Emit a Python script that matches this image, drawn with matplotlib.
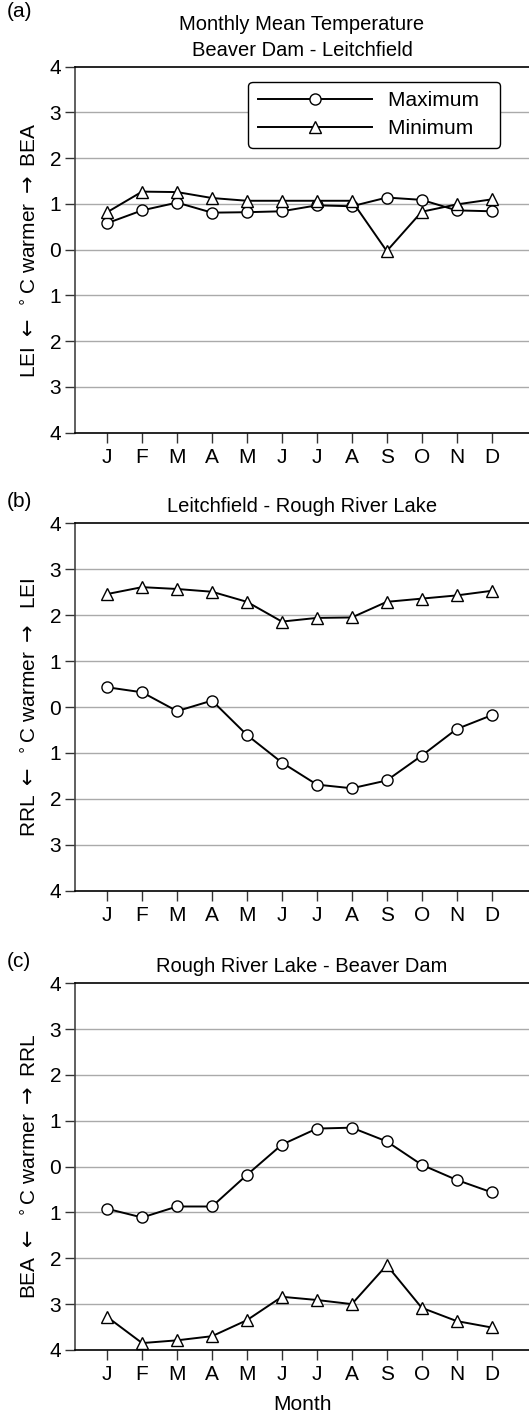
import numpy as np
import matplotlib.pyplot as plt

plt.rcParams['font.family'] = ['Liberation Sans', 'DejaVu Sans']

months = ['J', 'F', 'M', 'A', 'M', 'J', 'J', 'A', 'S', 'O', 'N', 'D']
x = np.arange(1, 13)

# (a) Beaver Dam - Leitchfield
a_max = [0.58, 0.86, 1.03, 0.81, 0.82, 0.84, 0.97, 0.95, 1.14, 1.09, 0.86, 0.84]
a_min = [0.82, 1.27, 1.26, 1.13, 1.07, 1.07, 1.07, 1.07, -0.03, 0.83, 0.99, 1.10]
# (b) Leitchfield - Rough River Lake
b_max = [0.43, 0.32, -0.09, 0.14, -0.61, -1.21, -1.69, -1.77, -1.60, -1.06, -0.48, -0.18]
b_min = [2.46, 2.61, 2.57, 2.51, 2.29, 1.86, 1.94, 1.95, 2.29, 2.36, 2.43, 2.53]
# (c) Rough River Lake - Beaver Dam
c_max = [-0.92, -1.11, -0.87, -0.87, -0.18, 0.48, 0.83, 0.85, 0.55, 0.04, -0.29, -0.56]
c_min = [-3.28, -3.85, -3.79, -3.70, -3.35, -2.84, -2.91, -3.00, -2.15, -3.08, -3.37, -3.51]

yticks = [-4, -3, -2, -1, 0, 1, 2, 3, 4]
ytick_labels = [str(abs(v)) for v in yticks]

panels = [
    ('(a)', 'Monthly Mean Temperature\nBeaver Dam - Leitchfield',
     'LEI $\\leftarrow$ $^\\circ$C warmer $\\rightarrow$ BEA', a_max, a_min,
     [0.1418, 0.694, 0.8582, 0.2588]),
    ('(b)', 'Leitchfield - Rough River Lake',
     'RRL $\\leftarrow$ $^\\circ$C warmer $\\rightarrow$  LEI', b_max, b_min,
     [0.1418, 0.3701, 0.8582, 0.2598]),
    ('(c)', 'Rough River Lake - Beaver Dam',
     'BEA $\\leftarrow$ $^\\circ$C warmer $\\rightarrow$ RRL', c_max, c_min,
     [0.1418, 0.0453, 0.8582, 0.2593]),
]

fig = plt.figure(figsize=(5.29, 14.14), dpi=100)

for i, (tag, title, ylab, ymax, ymin, pos) in enumerate(panels):
    ax = fig.add_axes(pos)
    for v in [-3, -2, -1, 0, 1, 2, 3]:
        ax.axhline(v, color='#aaaaaa', lw=1.0, zorder=0)
    ax.plot(x, ymax, '-o', color='black', lw=1.4, ms=8, mfc='white',
            mec='black', mew=1.0, label='Maximum  ', zorder=3)
    ax.plot(x, ymin, '-^', color='black', lw=1.4, ms=8.5, mfc='white',
            mec='black', mew=1.0, label='Minimum  ', zorder=3)
    ax.set_xlim(0.08, 13.07)
    ax.set_ylim(-4, 4)
    ax.set_yticks(yticks)
    ax.set_yticklabels(ytick_labels, fontsize=15)
    ax.set_xticks(x)
    ax.set_xticklabels(months, fontsize=15)
    ax.tick_params(axis='y', length=7, width=1, pad=3, color='#333333')
    ax.tick_params(axis='x', length=7, width=1, pad=4, color='#333333')
    ax.spines['right'].set_visible(False)
    ax.spines['left'].set_color('#444444')
    ax.spines['left'].set_linewidth(1.2)
    ax.spines['top'].set_linewidth(1.2)
    ax.spines['bottom'].set_linewidth(1.2)
    ax.set_ylabel(ylab, fontsize=15, labelpad=7)
    ax.set_title(title, fontsize=14.5, pad=8, linespacing=1.45)
    ax.text(-0.15, 1.0 + (0.125 if i == 0 else 0.033), tag, transform=ax.transAxes,
            fontsize=15, ha='left', va='bottom')
    if i == 0:
        leg = ax.legend(loc='upper right', bbox_to_anchor=(0.936, 0.958), fontsize=15,
                        handlelength=5.5, framealpha=1, edgecolor='black',
                        fancybox=True, borderpad=0.45, labelspacing=0.42,
                        handletextpad=0.75, borderaxespad=0)
        leg.get_frame().set_linewidth(1.0)
    if i == 2:
        ax.set_xlabel('Month', fontsize=15, labelpad=8)

fig.savefig('out.png', dpi=100)
